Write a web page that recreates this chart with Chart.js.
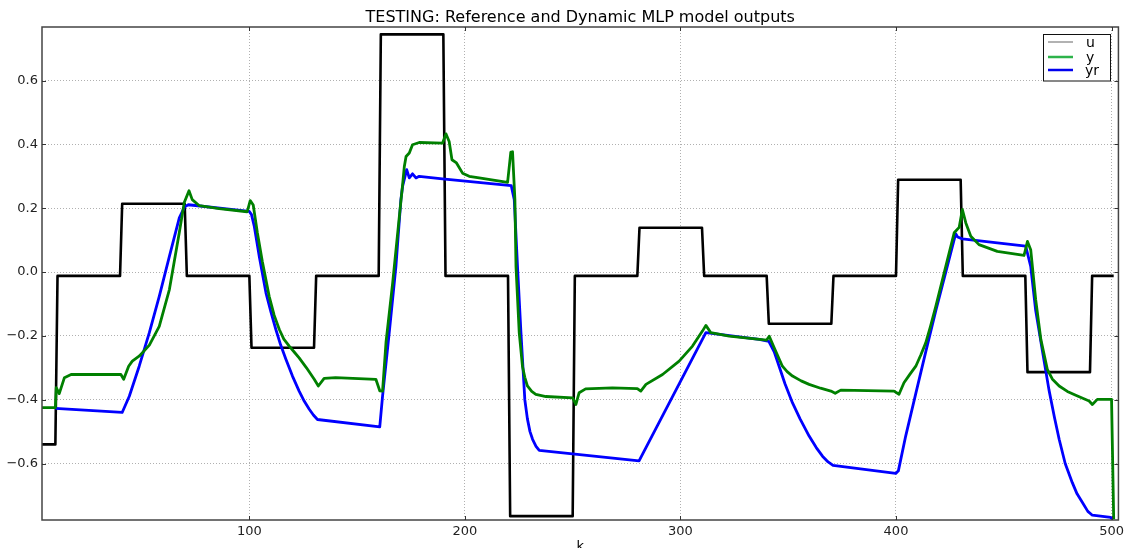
<!DOCTYPE html>
<html lang="en">
<head>
    <meta charset="UTF-8">
    <title>TESTING: Reference and Dynamic MLP model outputs</title>
    <script src="https://cdn.jsdelivr.net/npm/chart.js@4.4.0/dist/chart.umd.min.js"></script>
    <style>
        html, body { margin: 0; padding: 0; background: #fff; }
        canvas { display: block; }
    </style>
</head>
<body>
    <canvas id="mlpChart" width="1128" height="548"></canvas>

    <script>
        // axis limits and ticks
        const kRange = [3.8, 503.2];
        const vRange = [-0.777, 0.768];
        const kTicks = [100, 200, 300, 400, 500];
        const vTicks = [-0.6, -0.4, -0.2, 0, 0.2, 0.4, 0.6];

        // input u: piecewise constant, switches between k and k+1
        const uSwitchK = [10, 40, 70, 100, 130, 160, 190, 220, 250, 280, 310, 340, 370, 400, 430, 460, 490];
        const uLevels = [-0.54, -0.012, 0.214, -0.012, -0.237, -0.012, 0.745, -0.012, -0.765, -0.012,
                         0.139, -0.012, -0.162, -0.012, 0.2895, -0.012, -0.3135, -0.012];
        const uSpan = [3, 501];

        // model output y
        const yK = [3, 10, 10.4, 11.8, 14.2, 17.3, 40.4, 41.7, 44, 45.7, 49, 53.6, 58.2, 62.9, 67.5, 69.8, 72, 73.5, 76.8, 86, 99,
                    100.4, 101.8, 103.7, 106, 109.2, 111.5, 113.9, 116, 118.5, 121, 123.1, 126.5, 130.1, 132, 134.7, 140, 158.7, 160.5, 161.8,
                    163.4, 166.5, 169.6, 171.1, 171.9, 172.7, 174.2, 175.7, 178.8, 189.6, 191.2, 192.7, 194, 196.1, 198.9, 202, 206.6, 219.8,
                    221.3, 222.1, 223.2, 223.7, 225.2, 226.7, 227.8, 229, 231, 232.9, 237.6, 250, 251.5, 253, 256, 268.4, 280, 281.6, 284,
                    291.7, 299.4, 305.6, 310.2, 311.8, 314.1, 322.6, 340, 341.2, 343.5, 347.3, 349.5, 352, 356, 359.7, 365, 369.8, 371.8, 374.4,
                    399.1, 401.4, 403.7, 406.5, 409.2, 411.5, 413.8, 416, 418.5, 423.1, 427, 429.3, 430.8, 432.4, 434.7, 438.5, 447, 459.4,
                    461, 462.5, 464.8, 467.2, 470.2, 472.5, 475.7, 479.5, 483.4, 489.6, 491.1, 493.4, 500, 501];
        const yVal = [-0.425, -0.425, -0.362, -0.381, -0.331, -0.321, -0.321, -0.336, -0.295, -0.279, -0.263, -0.229, -0.17, -0.055, 0.124, 0.218, 0.255, 0.227, 0.208, 0.199, 0.189,
                      0.224, 0.21, 0.124, 0.034, -0.076, -0.135, -0.18, -0.21, -0.232, -0.252, -0.269, -0.30, -0.336, -0.357, -0.333, -0.331, -0.336, -0.372, -0.373,
                      -0.22, -0.033, 0.175, 0.274, 0.331, 0.362, 0.373, 0.399, 0.406, 0.404, 0.433, 0.409, 0.352, 0.342, 0.31, 0.30, 0.295, 0.281,
                      0.376, 0.377, 0.227, 0.018, -0.19, -0.295, -0.33, -0.357, -0.374, -0.383, -0.39, -0.394, -0.415, -0.378, -0.366, -0.363, -0.365, -0.373, -0.352,
                      -0.321, -0.279, -0.232, -0.185, -0.167, -0.19, -0.201, -0.213, -0.201, -0.237, -0.295, -0.312, -0.326, -0.341, -0.352, -0.364, -0.373, -0.38, -0.37,
                      -0.373, -0.383, -0.347, -0.32, -0.295, -0.26, -0.222, -0.17, -0.107, 0.018, 0.123, 0.14, 0.196, 0.154, 0.112, 0.086, 0.065, 0.052,
                      0.096, 0.07, -0.086, -0.211, -0.305, -0.335, -0.357, -0.374, -0.386, -0.404, -0.415, -0.399, -0.399, -0.775];

        // reference model output yr
        const yrK = [10, 41, 44.3, 48.9, 53.6, 58.2, 62.9, 67.5, 70, 71.7, 100, 101, 102.3, 104.6, 107.7, 110, 112.3, 114.5, 117, 120, 123.1,
                     125.5, 127.8, 129.7, 131.6, 160.5, 161.8, 164.9, 168, 170.3, 171.1, 173, 174.2, 175.7, 177.3, 178.8, 189.6, 221.5, 222.9,
                     224.4, 226, 227.8, 229, 230.2, 231.4, 233, 234.5, 280.8, 311.8, 336.5, 341, 343.5, 346, 348.5, 352, 355.5, 359.7, 363, 365.9,
                     368.5, 370.8, 399.9, 401.1, 404.5, 409.2, 413.8, 418.5, 423.1, 427.7, 428.6, 430.8, 460.2, 462.5, 464.8, 468, 471, 473.5,
                     475.7, 478.5, 481.8, 484, 486.5, 489, 491.1, 499.6, 500.5];
        const yrVal = [-0.427, -0.44, -0.389, -0.295, -0.19, -0.076, 0.049, 0.17, 0.205, 0.211, 0.19, 0.18, 0.143, 0.049, -0.065, -0.125, -0.18, -0.228, -0.274, -0.326, -0.373,
                       -0.405, -0.43, -0.448, -0.462, -0.485, -0.389, -0.19, 0.018, 0.227, 0.269, 0.321, 0.295, 0.308, 0.295, 0.30, 0.292, 0.271, 0.227,
                       0.018, -0.19, -0.4, -0.46, -0.5, -0.524, -0.546, -0.559, -0.592, -0.19, -0.211, -0.217, -0.25, -0.30, -0.35, -0.41, -0.46, -0.514, -0.55, -0.577,
                       -0.595, -0.606, -0.631, -0.623, -0.514, -0.38, -0.25, -0.12, 0.0, 0.12, 0.11, 0.104, 0.081, 0.018, -0.12, -0.25, -0.37, -0.455,
                       -0.524, -0.6, -0.66, -0.695, -0.722, -0.75, -0.762, -0.769, -0.775];

        const FONT = "'DejaVu Sans', sans-serif";

        function toPoints(xs, ys) {
            return xs.map((x, i) => ({ x: x, y: ys[i] }));
        }

        // corners of the step signal
        function stepPoints() {
            const pts = [{ x: uSpan[0], y: uLevels[0] }];
            uSwitchK.forEach((k, i) => {
                pts.push({ x: k, y: uLevels[i] });
                pts.push({ x: k + 1, y: uLevels[i + 1] });
            });
            pts.push({ x: uSpan[1], y: uLevels[uLevels.length - 1] });
            return pts;
        }

        const fmtTick = v => (v < 0 ? '\u2212' : '') + Math.abs(v).toFixed(1);

        // frame, inward ticks, title, x label and legend box
        const decorations = {
            id: 'decorations',
            afterDatasetsDraw(chart) {
                const { ctx, chartArea: a, scales } = chart;
                ctx.save();
                ctx.strokeStyle = '#444';
                ctx.lineWidth = 1.5;
                ctx.strokeRect(a.left, a.top, a.right - a.left, a.bottom - a.top);

                ctx.lineWidth = 1;
                ctx.strokeStyle = '#333';
                ctx.beginPath();
                kTicks.forEach(k => {
                    const x = Math.round(scales.x.getPixelForValue(k)) + 0.5;
                    ctx.moveTo(x, a.bottom); ctx.lineTo(x, a.bottom - 4);
                    ctx.moveTo(x, a.top); ctx.lineTo(x, a.top + 4);
                });
                vTicks.forEach(v => {
                    const y = Math.round(scales.y.getPixelForValue(v)) + 0.5;
                    ctx.moveTo(a.left, y); ctx.lineTo(a.left + 4, y);
                    ctx.moveTo(a.right, y); ctx.lineTo(a.right - 4, y);
                });
                ctx.stroke();

                ctx.fillStyle = '#000';
                ctx.font = '16px ' + FONT;
                ctx.textAlign = 'center';
                ctx.textBaseline = 'alphabetic';
                ctx.fillText('TESTING: Reference and Dynamic MLP model outputs', (a.left + a.right) / 2, 22);

                ctx.font = '13px ' + FONT;
                ctx.fillText('k', (a.left + a.right) / 2, 550);

                // legend
                const bx = 1043.5, by = 34.5, bw = 67, bh = 46.5;
                ctx.fillStyle = '#fff';
                ctx.fillRect(bx, by, bw, bh);
                ctx.strokeStyle = '#111';
                ctx.lineWidth = 1;
                ctx.strokeRect(bx, by, bw, bh);
                const entries = [
                    { label: 'u', color: '#999999', width: 1.5, y: 42 },
                    { label: 'y', color: '#2db34a', width: 2.5, y: 57 },
                    { label: 'yr', color: '#0000ee', width: 2.5, y: 70 }
                ];
                ctx.font = '14px ' + FONT;
                ctx.textAlign = 'left';
                ctx.textBaseline = 'middle';
                entries.forEach(e => {
                    ctx.strokeStyle = e.color;
                    ctx.lineWidth = e.width;
                    ctx.beginPath();
                    ctx.moveTo(1048, e.y);
                    ctx.lineTo(1073, e.y);
                    ctx.stroke();
                    ctx.fillStyle = '#000';
                    ctx.fillText(e.label, e.label === 'yr' ? 1085 : 1086, e.y + 1);
                });
                ctx.restore();
            }
        };

        new Chart(document.getElementById('mlpChart'), {
            type: 'line',
            data: {
                datasets: [
                    {
                        label: 'u',
                        data: stepPoints(),
                        borderColor: '#000000',
                        borderWidth: 2.6,
                        order: 3
                    },
                    {
                        label: 'yr',
                        data: toPoints(yrK, yrVal),
                        borderColor: '#0000ff',
                        borderWidth: 2.8,
                        order: 2
                    },
                    {
                        label: 'y',
                        data: toPoints(yK, yVal),
                        borderColor: '#008000',
                        borderWidth: 2.8,
                        order: 1
                    }
                ]
            },
            options: {
                responsive: false,
                animation: false,
                parsing: false,
                elements: {
                    point: { radius: 0 },
                    line: { tension: 0, fill: false, borderJoinStyle: 'round', borderCapStyle: 'butt' }
                },
                layout: { padding: { top: 27, right: 9, left: 0, bottom: 0 } },
                plugins: {
                    legend: { display: false },
                    title: { display: false },
                    tooltip: { enabled: false }
                },
                scales: {
                    x: {
                        type: 'linear',
                        min: kRange[0],
                        max: kRange[1],
                        afterBuildTicks: s => { s.ticks = kTicks.map(v => ({ value: v })); },
                        afterFit: s => { s.height = 28; },
                        grid: { color: '#b0b0b0', lineWidth: 1, drawTicks: false },
                        border: { display: false, dash: [1, 2] },
                        ticks: {
                            font: { family: FONT, size: 13 },
                            color: '#222',
                            padding: 4,
                            maxRotation: 0,
                            callback: v => String(v)
                        }
                    },
                    y: {
                        type: 'linear',
                        min: vRange[0],
                        max: vRange[1],
                        afterBuildTicks: s => { s.ticks = vTicks.map(v => ({ value: v })); },
                        afterFit: s => { s.width = 42; },
                        grid: { color: '#b0b0b0', lineWidth: 1, drawTicks: false },
                        border: { display: false, dash: [1, 2] },
                        ticks: {
                            font: { family: FONT, size: 13 },
                            color: '#222',
                            padding: 4,
                            callback: v => fmtTick(v)
                        }
                    }
                }
            },
            plugins: [decorations]
        });
    </script>
</body>
</html>
